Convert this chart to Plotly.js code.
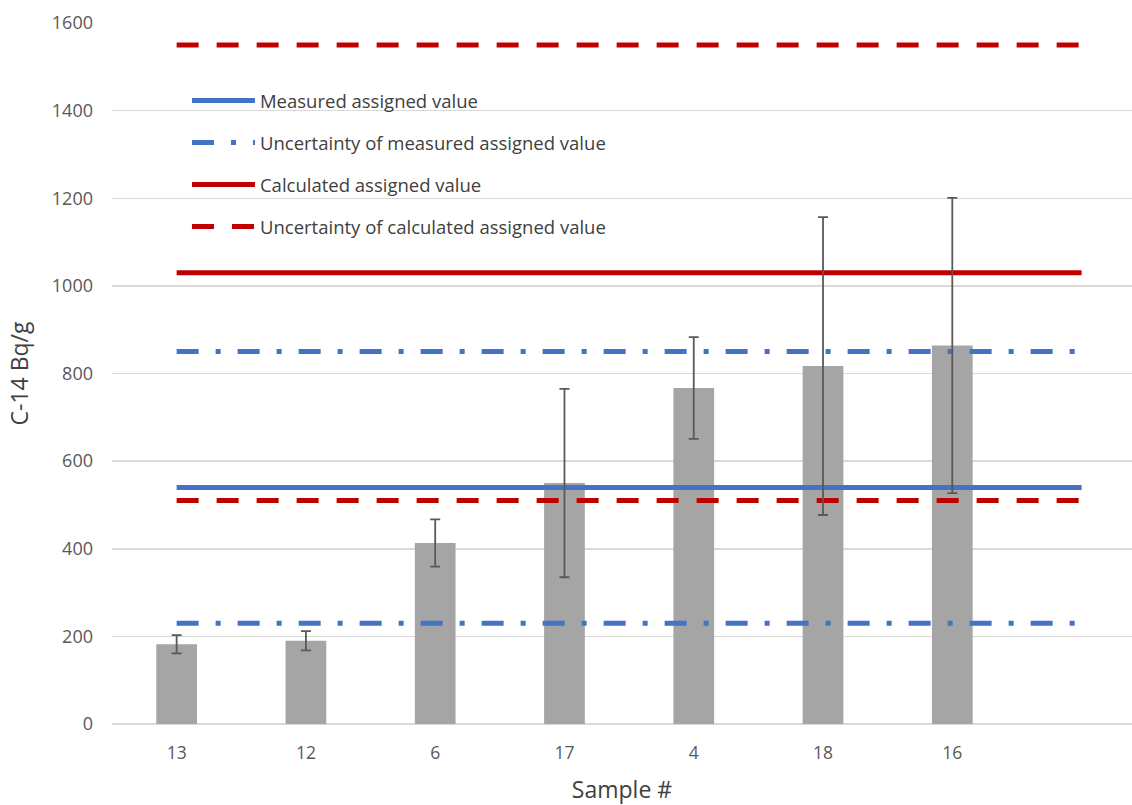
<!DOCTYPE html>
<html>
<head>
<meta charset="utf-8">
<script src="https://cdn.plot.ly/plotly-3.0.1.min.js"></script>
<style>html,body{margin:0;padding:0;background:#fff;}#chart{width:1132px;height:805px;}</style>
</head>
<body>
<div id="chart"></div>
<script>
// Data
const samples = ["13", "12", "6", "17", "4", "18", "16"];
const c14Values = [182, 190, 413, 550, 767, 817, 864];
const c14Errors = [21, 22, 54, 215, 116, 340, 337];
const measuredAssigned = 540;
const measuredUncertainty = [230, 850];
const calculatedAssigned = 1030;
const calculatedUncertainty = [510, 1550];

const idx = samples.map((_, i) => i);
const lineStart = 0;
const lineEnd = samples.length; // lines run across one extra (blank) category slot

function levelLine(levels) {
  const xs = [], ys = [];
  levels.forEach((v, k) => {
    if (k > 0) { xs.push(null); ys.push(null); }
    xs.push(lineStart, lineEnd); ys.push(v, v);
  });
  return {x: xs, y: ys};
}

const blue = '#4472c4', red = '#c00000';
const traces = [
  {type: 'bar', x: idx, y: c14Values, width: 0.315, marker: {color: '#a5a5a5'},
   showlegend: false, hoverinfo: 'y'},
  Object.assign({type: 'scatter', mode: 'lines', name: 'Measured assigned value', legendgroup: 'a',
   line: {color: blue, width: 5}}, levelLine([measuredAssigned])),
  Object.assign({type: 'scatter', mode: 'lines', name: 'Uncertainty of measured assigned value', legendgroup: 'b',
   line: {color: blue, width: 5, dash: '22px,17px,5px,17px'}}, levelLine(measuredUncertainty)),
  Object.assign({type: 'scatter', mode: 'lines', name: 'Calculated assigned value', legendgroup: 'c',
   line: {color: red, width: 5}}, levelLine([calculatedAssigned])),
  Object.assign({type: 'scatter', mode: 'lines', name: 'Uncertainty of calculated assigned value', legendgroup: 'd',
   line: {color: red, width: 5, dash: '22px,18px'}}, levelLine(calculatedUncertainty)),
  {type: 'scatter', mode: 'markers', x: idx, y: c14Values, marker: {opacity: 0, size: 1},
   error_y: {type: 'data', array: c14Errors, visible: true, color: '#595959', thickness: 1.8, width: 5},
   showlegend: false, hoverinfo: 'skip'}
];

const layout = {
  width: 1132, height: 805,
  margin: {l: 112, r: 0, t: 23, b: 80.5},
  paper_bgcolor: '#ffffff', plot_bgcolor: '#ffffff',
  font: {family: '"Open Sans", "Noto Sans", sans-serif', color: '#595959', size: 18},
  xaxis: {
    range: [-0.5, 7.39], tickmode: 'array', tickvals: idx, ticktext: samples,
    showgrid: false, zeroline: false, showline: false, ticks: '',
    ticklabelstandoff: 16, tickfont: {size: 17.5, color: '#595959'},
    title: {text: 'Sample #', font: {size: 23, color: '#404040'}, standoff: 29}
  },
  yaxis: {
    range: [0, 1600], dtick: 200, tick0: 0,
    showgrid: true, gridcolor: '#d9d9d9', gridwidth: 1.5,
    zeroline: true, zerolinecolor: '#d9d9d9', zerolinewidth: 2,
    showline: false, ticks: '', ticklabelstandoff: 18,
    tickfont: {size: 18, color: '#595959'},
    title: {text: 'C-14 Bq/g', font: {size: 23, color: '#404040'}, standoff: 16}
  },
  shapes: [
    // white panel behind the legend hiding the gridlines, as in the reference
    {type: 'rect', layer: 'between', xref: 'paper', yref: 'paper',
     x0: 0.0196, x1: 0.542, y0: 0.669, y1: 0.933,
     fillcolor: '#ffffff', line: {width: 0}}
  ],
  legend: {
    x: 0.0735, y: 0.916, xanchor: 'left', yanchor: 'top',
    bgcolor: 'rgba(255,255,255,0)', borderwidth: 0,
    font: {size: 18.5, color: '#404040'},
    traceorder: 'grouped', tracegroupgap: 15, itemwidth: 63
  },
  showlegend: true
};

Plotly.newPlot('chart', traces, layout, {displayModeBar: false, staticPlot: true});
</script>
</body>
</html>
